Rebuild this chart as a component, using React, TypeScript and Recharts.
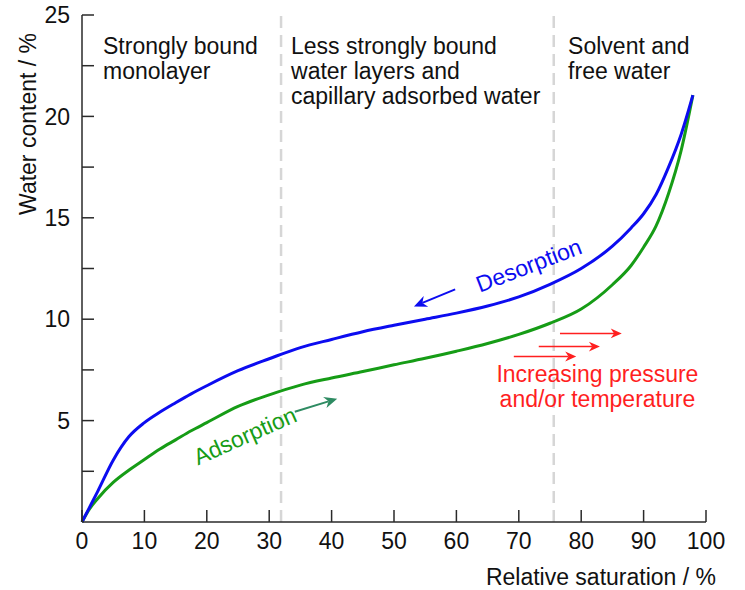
import { LineChart, Line, XAxis, YAxis, ReferenceLine, ReferenceDot } from 'recharts'

// relative saturation (%) sampled along both isotherms
const saturation = [0, 1, 2.5, 5, 7.5, 10, 12.5, 15, 17.5, 20, 25, 30, 35, 40, 45, 50, 55, 60, 65, 70, 75, 80, 85, 88, 90, 92, 94, 96, 97.9]
// water content (%)
const desorption = [0, 0.6, 1.5, 3.05, 4.2, 4.9, 5.42, 5.88, 6.32, 6.72, 7.46, 8.05, 8.6, 9.0, 9.38, 9.7, 10.0, 10.3, 10.65, 11.1, 11.72, 12.5, 13.6, 14.5, 15.2, 16.15, 17.5, 19.1, 21.05]
const adsorption = [0, 0.55, 1.15, 1.95, 2.55, 3.08, 3.6, 4.05, 4.5, 4.9, 5.7, 6.27, 6.75, 7.1, 7.42, 7.75, 8.07, 8.42, 8.8, 9.25, 9.8, 10.5, 11.7, 12.65, 13.55, 14.6, 16.2, 18.3, 21.05]

const xTicks = [0, 10, 20, 30, 40, 50, 60, 70, 80, 90, 100]
const yTicks = [2.5, 5, 7.5, 10, 12.5, 15, 17.5, 20, 22.5, 25]
const regionBounds = [31.9, 75.6]

const regionNotes = [
  { x: 3.37, y: 23.1, lines: ['Strongly bound', 'monolayer'] },
  { x: 33.5, y: 23.1, lines: ['Less strongly bound', 'water layers and', 'capillary adsorbed water'] },
  { x: 77.9, y: 23.1, lines: ['Solvent and', 'free water'] },
]

const FONT = '"Liberation Sans", Arial, Helvetica, sans-serif'
const FS = 23
const BLUE = '#0c0cf0'
const GREEN = '#169c16'
const TEAL = '#2e8b62'
const RED = '#ff1f1f'
const AXIS = '#2a2a2a'

const data = saturation.map((x, i) => ({ x, desorption: desorption[i], adsorption: adsorption[i] }))

function arrow(color: string, width: number, head: number) {
  return (p: any) => {
    const { x1, y1, x2, y2 } = p
    const a = Math.atan2(y2 - y1, x2 - x1)
    const c = Math.cos(a)
    const s = Math.sin(a)
    const bx = x2 - head * c
    const by = y2 - head * s
    const w = head * 0.45
    const nx = x2 - head * 0.7 * c
    const ny = y2 - head * 0.7 * s
    const pts = `${x2},${y2} ${bx - w * s},${by + w * c} ${nx},${ny} ${bx + w * s},${by - w * c}`
    return (
      <g>
        <line x1={x1} y1={y1} x2={nx} y2={ny} stroke={color} strokeWidth={width} />
        <polygon points={pts} fill={color} />
      </g>
    )
  }
}

function noteShape(lines: string[]) {
  return (p: any) => (
    <text x={p.cx} y={p.cy} fill="#111" fontSize={FS} fontFamily={FONT}>
      {lines.map((l, i) => (
        <tspan key={i} x={p.cx} dy={i === 0 ? 0 : 25}>
          {l}
        </tspan>
      ))}
    </text>
  )
}

function rotatedText(label: string, color: string, angle: number) {
  return (p: any) => (
    <text
      x={p.cx}
      y={p.cy}
      fill={color}
      fontSize={FS}
      fontFamily={FONT}
      textAnchor="middle"
      dominantBaseline="central"
      transform={`rotate(${angle} ${p.cx} ${p.cy})`}
    >
      {label}
    </text>
  )
}

function redNote(p: any) {
  return (
    <text x={p.cx} y={p.cy} fill={RED} fontSize={FS} fontFamily={FONT} textAnchor="middle">
      <tspan x={p.cx} dy={0}>Increasing pressure</tspan>
      <tspan x={p.cx} dy={25}>and/or temperature</tspan>
    </text>
  )
}

export default function App() {
  return (
    <div style={{ position: 'absolute', left: 0, top: 0, width: 745, height: 590, background: '#fff' }}>
      <LineChart width={745} height={590} data={data} margin={{ top: 15, right: 39, bottom: 0, left: 0 }}>
        <XAxis
          type="number"
          dataKey="x"
          domain={[0, 100]}
          ticks={xTicks}
          interval={0}
          stroke={AXIS}
          strokeWidth={1.5}
          tickSize={-12}
          tickMargin={23}
          height={68}
          tick={{ fill: '#111', fontSize: FS, fontFamily: FONT }}
          label={{
            content: (props: any) => {
              const vb = props.viewBox || { x: 82, y: 522, width: 624 }
              return (
                <text x={vb.x + vb.width + 10} y={vb.y + 63} textAnchor="end" fill="#111" fontSize={FS} fontFamily={FONT}>
                  Relative saturation / %
                </text>
              )
            },
          }}
        />
        <YAxis
          type="number"
          domain={[0, 25]}
          ticks={yTicks}
          interval={0}
          width={82}
          stroke={AXIS}
          strokeWidth={1.5}
          tickSize={-12}
          tickMargin={24}
          tickFormatter={(v: number) => (v % 5 === 0 ? String(v) : '')}
          tick={{ fill: '#111', fontSize: FS, fontFamily: FONT }}
          label={{
            content: (props: any) => {
              const vb = props.viewBox || { x: 0, y: 15 }
              const cx = vb.x + 36
              const cy = vb.y + 109
              return (
                <text
                  x={cx}
                  y={cy}
                  textAnchor="middle"
                  fill="#111"
                  fontSize={FS}
                  fontFamily={FONT}
                  transform={`rotate(-90 ${cx} ${cy})`}
                >
                  Water content / %
                </text>
              )
            },
          }}
        />
        {regionBounds.map((b) => (
          <ReferenceLine key={b} x={b} stroke="#d6d6d6" strokeWidth={2.5} strokeDasharray="12 7" />
        ))}
        <Line type="monotone" dataKey="adsorption" stroke={GREEN} strokeWidth={3} dot={false} isAnimationActive={false} />
        <Line type="monotone" dataKey="desorption" stroke={BLUE} strokeWidth={3} dot={false} isAnimationActive={false} />
        {regionNotes.map((n, i) => (
          <ReferenceDot key={i} x={n.x} y={n.y} r={0} shape={noteShape(n.lines)} />
        ))}
        <ReferenceDot x={71.6} y={12.66} r={0} shape={rotatedText('Desorption', BLUE, -21)} />
        <ReferenceDot x={26.1} y={4.25} r={0} shape={rotatedText('Adsorption', GREEN, -24)} />
        <ReferenceDot x={82.6} y={6.92} r={0} shape={redNote} />
        <ReferenceLine segment={[{ x: 59.8, y: 11.47 }, { x: 53.2, y: 10.63 }]} shape={arrow(BLUE, 2, 13)} />
        <ReferenceLine segment={[{ x: 34.1, y: 5.44 }, { x: 40.9, y: 6.08 }]} shape={arrow(TEAL, 2, 13)} />
        <ReferenceLine segment={[{ x: 76.6, y: 9.3 }, { x: 86.5, y: 9.3 }]} shape={arrow(RED, 1.5, 11)} />
        <ReferenceLine segment={[{ x: 73.2, y: 8.65 }, { x: 83.0, y: 8.65 }]} shape={arrow(RED, 1.5, 11)} />
        <ReferenceLine segment={[{ x: 69.2, y: 8.16 }, { x: 79.2, y: 8.16 }]} shape={arrow(RED, 1.5, 11)} />
      </LineChart>
    </div>
  )
}
